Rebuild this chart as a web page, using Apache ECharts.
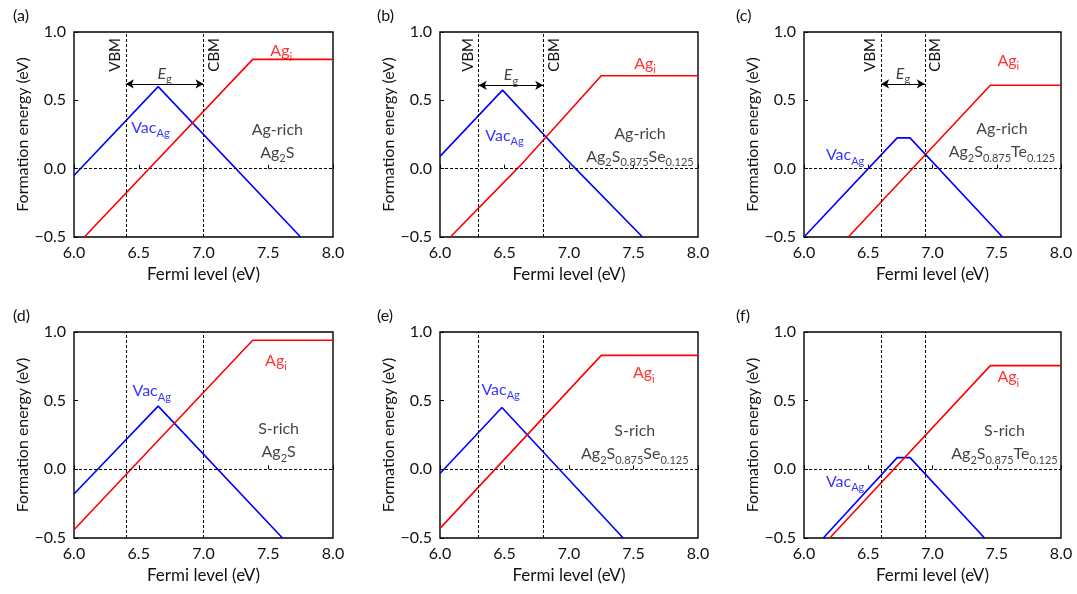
<!DOCTYPE html>
<html>
<head>
<meta charset="utf-8">
<script src="https://cdn.jsdelivr.net/npm/echarts@6/dist/echarts.min.js"></script>
<style>
html,body{margin:0;padding:0;background:#fff;}
#chart{width:1077px;height:594px;}
</style>
</head>
<body>
<div id="chart"></div>
<script>
// ---------- DATA ----------
const panelIds = ['(a)', '(b)', '(c)', '(d)', '(e)', '(f)'];
const conditions = ['Ag-rich', 'Ag-rich', 'Ag-rich', 'S-rich', 'S-rich', 'S-rich'];
// compound formulas as [element, subscript] pairs
const ag2s = [['Ag', '2'], ['S', '']];
const ag2sse = [['Ag', '2'], ['S', '0.875'], ['Se', '0.125']];
const ag2ste = [['Ag', '2'], ['S', '0.875'], ['Te', '0.125']];
const compounds = [ag2s, ag2sse, ag2ste, ag2s, ag2sse, ag2ste];
const vbmLevels = [6.4, 6.3, 6.6, 6.4, 6.3, 6.6];
const cbmLevels = [7.0, 6.8, 6.94, 7.0, 6.8, 6.94];
const egArrowLevels = [0.62, 0.61, 0.62, null, null, null];

// [Fermi level (eV), formation energy (eV)]
const vacA = [[6.0, -0.05], [6.65, 0.60], [7.75, -0.50]];
const vacB = [[6.0, 0.09], [6.485, 0.575], [7.03, 0.02], [7.57, -0.50]];
const vacC = [[6.0, -0.50], [6.725, 0.225], [6.825, 0.225], [7.545, -0.50]];
const vacD = [[6.0, -0.18], [6.65, 0.46], [7.61, -0.50]];
const vacE = [[6.0, -0.03], [6.48, 0.45], [7.42, -0.50]];
const vacF = [[6.15, -0.50], [6.725, 0.085], [6.825, 0.085], [7.405, -0.50]];

const agA = [[6.08, -0.50], [7.38, 0.80], [8.0, 0.80]];
const agB = [[6.08, -0.50], [6.62, 0.02], [7.25, 0.68], [8.0, 0.68]];
const agC = [[6.345, -0.50], [7.45, 0.61], [8.0, 0.61]];
const agD = [[6.0, -0.44], [7.38, 0.94], [8.0, 0.94]];
const agE = [[6.0, -0.43], [7.25, 0.83], [8.0, 0.83]];
const agF = [[6.2, -0.50], [7.45, 0.755], [8.0, 0.755]];

const vacSeries = [vacA, vacB, vacC, vacD, vacE, vacF];
const agSeries = [agA, agB, agC, agD, agE, agF];

const xMin = 6.0, xMax = 8.0, xStep = 0.5;
const yMin = -0.5, yMax = 1.0, yStep = 0.5;

// ---------- LAYOUT (annotation anchors in data coords, grid boxes in px) ----------
const colLeft = [74, 440, 804], colWidth = [259, 258, 257];
const rowTop = [32, 332], rowHeight = [205, 206];
const yNameGap = [36, 36, 39];
const titleLeft = [8, 372, 731], titleTop = [3, 303];

const agLabelPos = [[7.60, 0.86], [7.59, 0.77], [7.59, 0.79], [7.56, 0.79], [7.58, 0.70], [7.59, 0.67]];
const vacLabelPos = [[6.59, 0.30], [6.50, 0.24], [6.32, 0.10], [6.60, 0.57], [6.47, 0.58], [6.32, -0.09]];
const condLabelPos = [[7.57, 0.20], [7.55, 0.17], [7.54, 0.205], [7.58, 0.21], [7.51, 0.195], [7.56, 0.195]];
const egLabelOffset = 0.075;

const FONT = 'Lato, "Open Sans", "Noto Sans", sans-serif';
const RED = '#ff0000', BLUE = '#0000ff', INK = '#111';

const grids = [], xAxes = [], yAxes = [], series = [], titles = [];

const fmtY = v => (v < 0 ? '\u2212' + Math.abs(v).toFixed(1) : v.toFixed(1));
const formula = parts => parts.map(p => '{n|' + p[0] + '}' + (p[1] ? '{s|' + p[1] + '}' : '')).join('');

for (let i = 0; i < 6; i++) {
  const col = i % 3, row = Math.floor(i / 3);
  grids.push({
    left: colLeft[col], top: rowTop[row], width: colWidth[col], height: rowHeight[row],
    show: true, borderColor: '#000', borderWidth: 1.4, backgroundColor: 'transparent'
  });
  xAxes.push({
    type: 'value', gridIndex: i, min: xMin, max: xMax, interval: xStep,
    name: 'Fermi level (eV)', nameLocation: 'middle', nameGap: 29,
    nameTextStyle: { fontFamily: FONT, fontSize: 17, color: INK },
    axisLine: { show: false },
    axisTick: { show: true, inside: true, length: 4, lineStyle: { color: '#000', width: 1 } },
    axisLabel: { fontFamily: FONT, fontSize: 16, color: INK, margin: 8, formatter: v => v.toFixed(1) },
    splitLine: { show: false }
  });
  yAxes.push({
    type: 'value', gridIndex: i, min: yMin, max: yMax, interval: yStep,
    name: 'Formation energy (eV)', nameLocation: 'middle', nameGap: yNameGap[col],
    nameTextStyle: { fontFamily: FONT, fontSize: 16, color: INK },
    axisLine: { show: false },
    axisTick: { show: true, inside: true, length: 4, lineStyle: { color: '#000', width: 1 } },
    axisLabel: { fontFamily: FONT, fontSize: 16, color: INK, margin: 8, formatter: fmtY },
    splitLine: { show: false }
  });
  titles.push({
    text: panelIds[i], left: titleLeft[col], top: titleTop[row],
    textStyle: { fontFamily: FONT, fontSize: 16, fontWeight: 'normal', color: INK }
  });

  const dash = { color: '#000', width: 1, type: [3, 2] };
  const vLabel = (txt, pos) => txt ? {
    show: true, formatter: txt, position: pos, distance: [6, 3],
    fontFamily: FONT, fontSize: 15, color: INK
  } : { show: false };
  const hasLbl = egArrowLevels[i] !== null;
  const mlData = [
    { yAxis: 0, label: { show: false } },
    { xAxis: vbmLevels[i], label: vLabel(hasLbl ? 'VBM' : null, 'insideEndTop') },
    { xAxis: cbmLevels[i], label: vLabel(hasLbl ? 'CBM' : null, 'insideEndBottom') }
  ];
  series.push({
    type: 'line', xAxisIndex: i, yAxisIndex: i, data: [], z: 1, silent: true,
    markLine: { silent: true, symbol: 'none', animation: false, lineStyle: dash, data: mlData }
  });
  if (hasLbl) {
    series.push({
      type: 'line', xAxisIndex: i, yAxisIndex: i, data: [], z: 2, silent: true,
      markLine: {
        silent: true, animation: false, symbol: ['arrow', 'arrow'], symbolSize: [7, 8],
        lineStyle: { color: '#000', width: 1.2, type: 'solid' }, label: { show: false },
        data: [[{ coord: [vbmLevels[i], egArrowLevels[i]] }, { coord: [cbmLevels[i], egArrowLevels[i]] }]]
      }
    });
  }
  series.push({
    type: 'line', xAxisIndex: i, yAxisIndex: i, data: vacSeries[i], z: 3,
    showSymbol: false, symbol: 'none', silent: true, animation: false,
    lineStyle: { color: BLUE, width: 1.6 }
  });
  series.push({
    type: 'line', xAxisIndex: i, yAxisIndex: i, data: agSeries[i], z: 3,
    showSymbol: false, symbol: 'none', silent: true, animation: false,
    lineStyle: { color: RED, width: 1.6 }
  });

  const rich = (color) => ({
    n: { fontFamily: FONT, fontSize: 16, color: color, lineHeight: 23 },
    it: { fontFamily: FONT, fontSize: 16, color: color, fontStyle: 'italic', lineHeight: 23 },
    s: { fontFamily: FONT, fontSize: 11, color: color, verticalAlign: 'bottom', lineHeight: 8 }
  });
  const ann = (pos, text, color) => ({
    value: pos,
    label: { show: true, position: 'inside', formatter: text, rich: rich(color), color: color }
  });
  const annData = [
    ann(agLabelPos[i], '{n|Ag}{s|i}', RED),
    ann(vacLabelPos[i], '{n|Vac}{s|Ag}', BLUE),
    ann(condLabelPos[i], '{n|' + conditions[i] + '}\n' + formula(compounds[i]), INK)
  ];
  if (hasLbl) {
    annData.push(ann([(vbmLevels[i] + cbmLevels[i]) / 2, egArrowLevels[i] + egLabelOffset], '{it|E}{s|g}', INK));
  }
  series.push({
    type: 'scatter', xAxisIndex: i, yAxisIndex: i, z: 5, silent: true, animation: false,
    symbolSize: 1, itemStyle: { color: 'rgba(0,0,0,0)' },
    data: annData
  });
}

const chart = echarts.init(document.getElementById('chart'), null, { renderer: 'canvas' });
chart.setOption({
  animation: false,
  backgroundColor: '#fff',
  title: titles,
  grid: grids,
  xAxis: xAxes,
  yAxis: yAxes,
  series: series
});
</script>
</body>
</html>
